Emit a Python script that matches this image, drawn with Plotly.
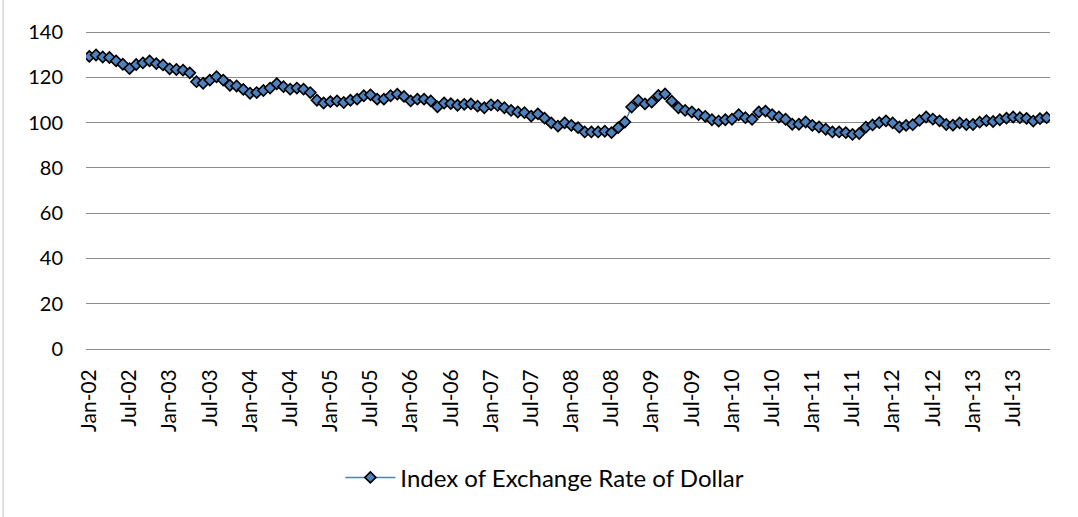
import plotly.graph_objects as go

MONTHS = ["Jan", "Feb", "Mar", "Apr", "May", "Jun", "Jul", "Aug", "Sep", "Oct", "Nov", "Dec"]
YEARS = ["02", "03", "04", "05", "06", "07", "08", "09", "10", "11", "12", "13"]

v2002 = [129.3, 129.9, 129.0, 128.8, 127.3, 125.8, 123.9, 125.7, 126.4, 127.3, 126.1, 125.5]
v2003 = [123.8, 123.5, 123.2, 122.0, 118.1, 117.4, 118.8, 120.3, 118.8, 116.5, 116.2, 114.7]
v2004 = [113.0, 113.3, 114.2, 115.3, 117.2, 115.9, 114.8, 115.3, 114.8, 113.3, 109.9, 108.7]
v2005 = [109.3, 109.6, 108.9, 109.9, 110.4, 111.9, 112.3, 110.4, 110.4, 111.9, 112.6, 111.6]
v2006 = [109.6, 110.4, 110.4, 109.6, 107.0, 108.7, 108.4, 107.7, 108.1, 108.3, 107.3, 106.6]
v2007 = [107.9, 107.6, 106.6, 105.4, 104.7, 104.4, 102.9, 103.9, 102.0, 99.9, 98.5, 99.9]
v2008 = [98.8, 97.8, 95.9, 95.9, 95.9, 96.2, 95.6, 97.8, 100.3, 106.9, 109.8, 108.3]
v2009 = [109.1, 112.0, 112.7, 109.5, 106.6, 105.4, 104.7, 103.6, 102.8, 101.3, 100.7, 101.3]
v2010 = [101.5, 103.5, 102.2, 101.5, 104.7, 105.1, 103.5, 102.5, 101.5, 99.3, 99.3, 100.3]
v2011 = [98.8, 98.1, 97.1, 95.9, 95.9, 95.6, 94.8, 95.2, 98.0, 99.0, 100.0, 100.8]
v2012 = [99.9, 98.1, 98.8, 99.1, 101.0, 102.5, 101.6, 100.8, 99.2, 98.9, 99.9, 99.2]
v2013 = [99.2, 100.2, 100.9, 100.5, 101.3, 102.0, 102.5, 102.2, 101.9, 100.7, 101.8, 102.2]

values = v2002 + v2003 + v2004 + v2005 + v2006 + v2007 + v2008 + v2009 + v2010 + v2011 + v2012 + v2013
categories = [f"{m}-{y}" for y in YEARS for m in MONTHS]
tick_labels = categories[::6]

Y_TICKS = [0, 20, 40, 60, 80, 100, 120, 140]

FONT = "Lato"

fig = go.Figure()
fig.add_trace(go.Scatter(
    x=categories, y=values, mode="lines+markers",
    name="Index of Exchange Rate of Dollar",
    line=dict(color="#4F81BD", width=1.5),
    marker=dict(symbol="diamond", size=8.5, color="#4F81BD",
                line=dict(color="#000000", width=1.6)),
))

fig.update_layout(
    width=1078, height=517,
    margin=dict(l=86, r=28, t=31, b=168),
    paper_bgcolor="white", plot_bgcolor="white",
    font=dict(family=FONT, size=20, color="#000000"),
    showlegend=True,
    legend=dict(orientation="h", x=0.476, xanchor="center", y=-0.405, yanchor="middle",
                font=dict(family=FONT, size=24), itemwidth=50),
    xaxis=dict(type="category", tickmode="array", tickvals=tick_labels, ticktext=tick_labels,
               tickangle=-90, showgrid=False, showline=False, ticks="",
               range=[-0.5, len(categories) - 0.5], tickfont=dict(size=21),
               ticklabelstandoff=15),
    yaxis=dict(range=[0, 140.5], tickvals=Y_TICKS, showgrid=True, gridcolor="#8c8c8c",
               gridwidth=1, zeroline=True, zerolinecolor="#8c8c8c", zerolinewidth=1,
               showline=False, ticks="", tickfont=dict(size=20), ticklabelstandoff=22),
    shapes=[dict(type="line", xref="paper", yref="paper", x0=-0.086, x1=-0.086,
                 y0=-0.53, y1=1.10, line=dict(color="#bfbfbf", width=1))],
)

fig.write_html("out.html", config={"displayModeBar": False},
               post_script="document.body.style.margin='0px';")
